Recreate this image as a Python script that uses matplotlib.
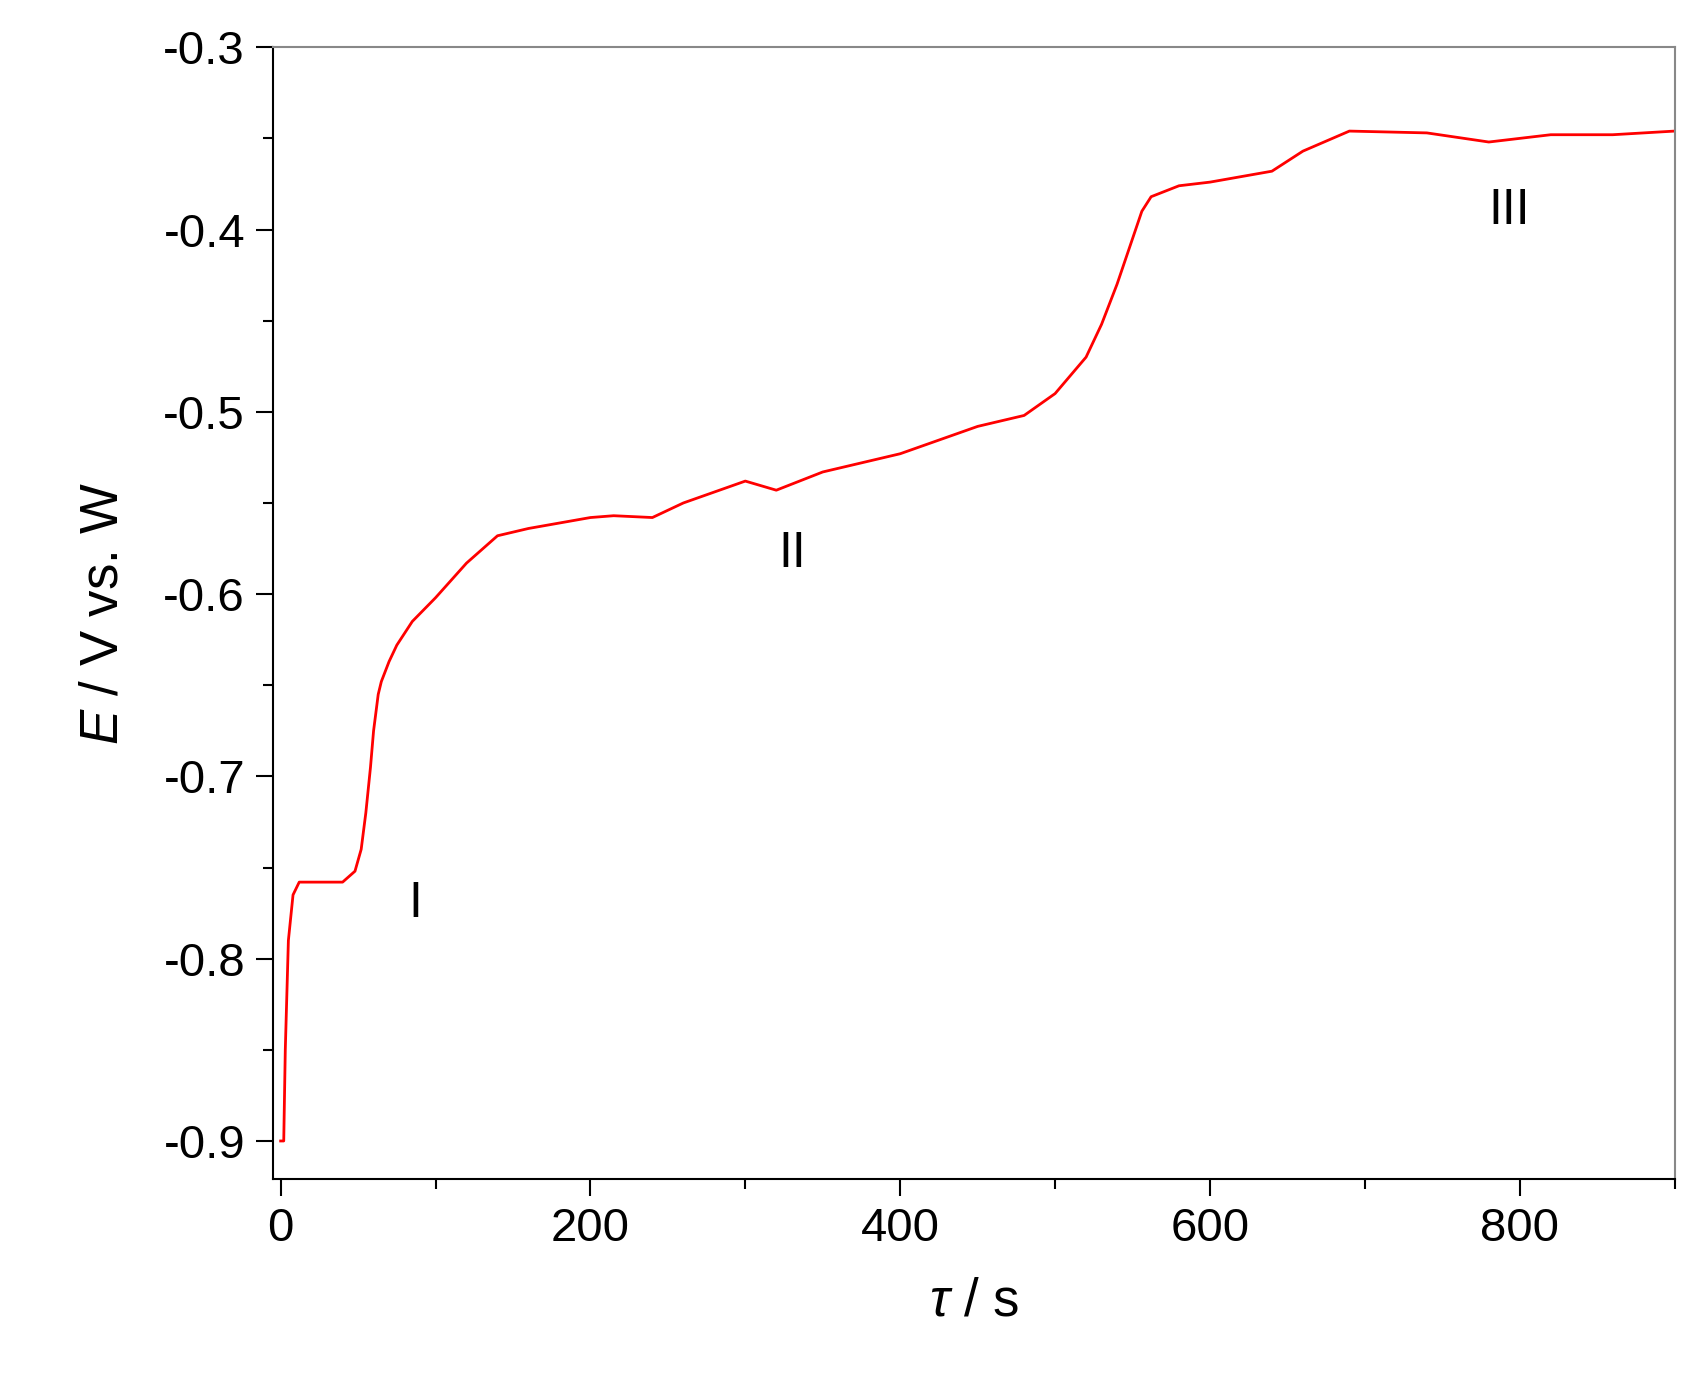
import matplotlib
matplotlib.use("Agg")
import matplotlib.pyplot as plt
from matplotlib.ticker import MultipleLocator

plt.rcParams['font.family'] = ['Liberation Sans', 'DejaVu Sans']
plt.rcParams['mathtext.fontset'] = 'custom'
plt.rcParams['mathtext.it'] = 'Liberation Sans:italic'

t = [0, 2, 3, 5, 8, 12, 25, 40, 48, 52, 55, 58, 60, 63, 65, 70, 75, 85, 100, 120, 140, 160, 200, 215, 240, 260,
     300, 320, 350, 400, 450, 480, 500, 520, 530, 540, 550, 556, 562, 580, 600, 640, 660, 690, 740, 780, 820, 860, 900]
E = [-0.9, -0.9, -0.85, -0.79, -0.765, -0.758, -0.758, -0.758, -0.752, -0.74, -0.72, -0.695, -0.675,
     -0.655, -0.648, -0.637, -0.628, -0.615, -0.602, -0.583, -0.568, -0.564, -0.558, -0.557, -0.558, -0.55, -0.538, -0.543, -0.533,
     -0.523, -0.508, -0.502, -0.49, -0.47, -0.452, -0.43, -0.405, -0.39, -0.382, -0.376, -0.374, -0.368, -0.357,
     -0.346, -0.347, -0.352, -0.348, -0.348, -0.346]
labels = ["I", "II", "III"]
label_t = [87, 330, 793]
label_E = [-0.77, -0.578, -0.39]

fig = plt.figure(figsize=(16.95, 13.89), dpi=100)
ax = fig.add_axes([0.161, 0.151, 0.827, 0.815])
ax.plot(t, E, color="red", lw=2)
for s, x, y in zip(labels, label_t, label_E):
    ax.text(x, y, s, fontsize=36, ha="center", va="center")
ax.set_xlim(-5, 900)
ax.set_ylim(-0.921, -0.3)
ax.xaxis.set_major_locator(MultipleLocator(200))
ax.xaxis.set_minor_locator(MultipleLocator(100))
ax.yaxis.set_minor_locator(MultipleLocator(0.05))
ax.set_yticks([-0.9, -0.8, -0.7, -0.6, -0.5, -0.4, -0.3])
ax.set_yticklabels(["-0.9", "-0.8", "-0.7", "-0.6", "-0.5", "-0.4", "-0.3"])
ax.tick_params(which="major", length=12, width=1.5, labelsize=34, direction="out", pad=8)
ax.tick_params(which="minor", length=7, width=1.5, direction="out")
for sp in ax.spines.values():
    sp.set_linewidth(1.5)
for sp in ("top", "right"):
    ax.spines[sp].set_color("#888888")
ax.set_xlabel(r"$\tau$ / s", fontsize=38, labelpad=18)
ax.set_ylabel(r"$E$ / V vs. W", fontsize=38, labelpad=25)
fig.savefig("out.png", dpi=100)
